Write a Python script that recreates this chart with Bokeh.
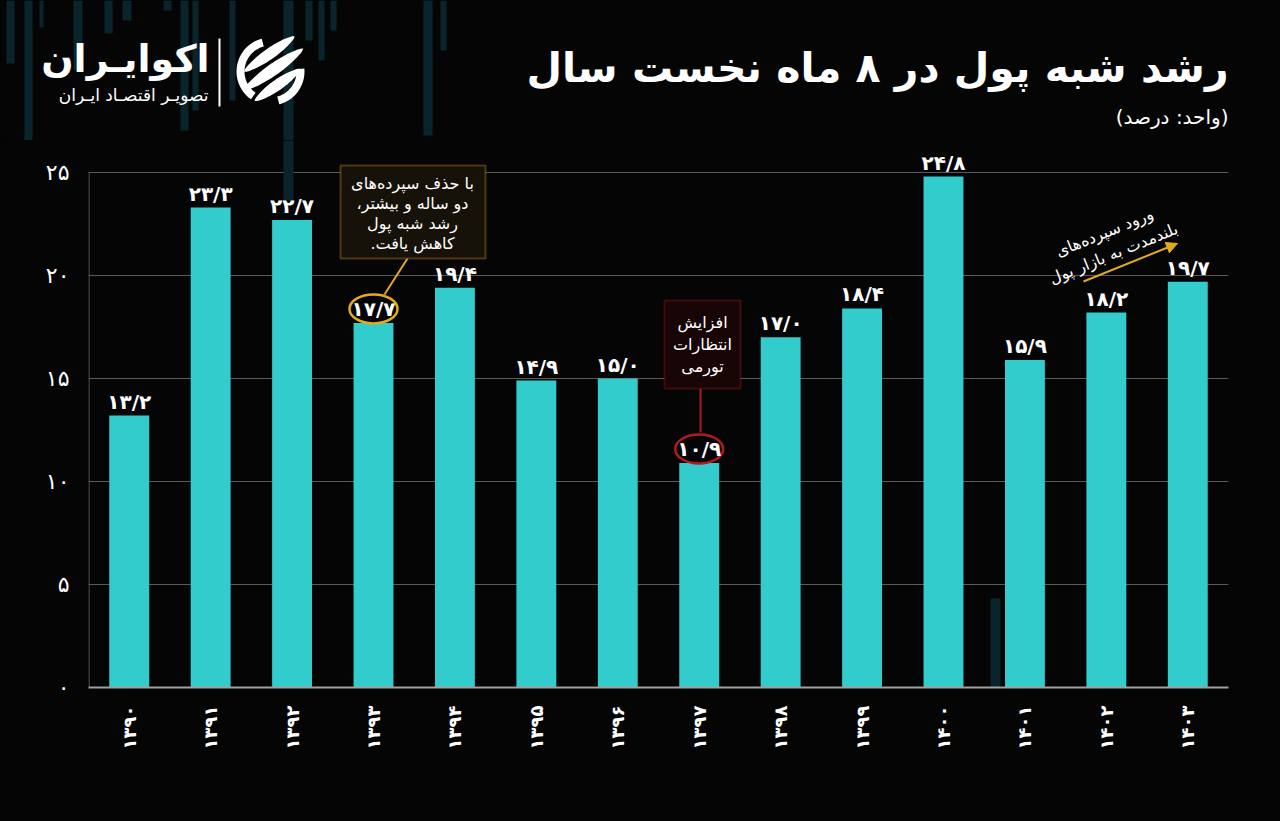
import numpy as np
from bokeh.plotting import figure
from bokeh.layouts import column
from bokeh.models import (ColumnDataSource, FactorRange, Range1d, LabelSet, Label,
                          BoxAnnotation, Arrow, NormalHead, FixedTicker)
from bokeh.core.properties import value
from bokeh.embed import file_html
from bokeh.resources import INLINE

# ---------------- data ----------------
years = ["۱۳۹۰", "۱۳۹۱", "۱۳۹۲", "۱۳۹۳", "۱۳۹۴", "۱۳۹۵", "۱۳۹۶",
         "۱۳۹۷", "۱۳۹۸", "۱۳۹۹", "۱۴۰۰", "۱۴۰۱", "۱۴۰۲", "۱۴۰۳"]
growth = [13.2, 23.3, 22.7, 17.7, 19.4, 14.9, 15.0, 10.9, 17.0, 18.4, 24.8, 15.9, 18.2, 19.7]
value_labels = ["۱۳/۲", "۲۳/۳", "۲۲/۷", "۱۷/۷", "۱۹/۴", "۱۴/۹", "۱۵/۰",
                "۱۰/۹", "۱۷/۰", "۱۸/۴", "۲۴/۸", "۱۵/۹", "۱۸/۲", "۱۹/۷"]
y_ticks = [0, 5, 10, 15, 20, 25]
y_tick_labels = ["۰", "۵", "۱۰", "۱۵", "۲۰", "۲۵"]

RLM = "\u200F"
def rtl(s):
    return RLM + s + RLM

title_text = "رشد شبه پول در ۸ ماه نخست سال"
subtitle_text = "(واحد: درصد)"
logo_text = "اکوایـران"
logo_sub = "تصویـر اقتصـاد ایـران"
note_yellow = ["با حذف سپرده‌های", "دو ساله و بیشتر،", "رشد شبه پول", "کاهش یافت."]
note_red = ["افزایش", "انتظارات", "تورمی"]
note_arrow = ["ورود سپرده‌های", "بلندمدت به بازار پول"]

FONT = "DejaVu Sans"
W, H = 1280, 821
HEAD = 140                 # header height (px)
FL, FR, FB = 88, 1228, 687  # frame left / right / bottom (page px)
BG = "#050505"
BAR = "#33CCCC"
GOLD = "#E2AA1E"
RED = "#B3191E"
DECO = "#0a242c"

# ---------------- header (logo + title) ----------------
hd = figure(width=W, height=HEAD, x_range=Range1d(0, W), y_range=Range1d(HEAD, 0),
            x_axis_type=None, y_axis_type=None, output_backend="svg", toolbar_location=None,
            min_border=0, min_border_left=0, min_border_right=0, min_border_top=0,
            min_border_bottom=0, background_fill_color=BG, border_fill_color=BG,
            outline_line_color=None, frame_align=False)
hd.title.visible = False
hd.grid.visible = False

deco_l = [6, 24, 39, 73, 104, 122, 163, 180, 192, 229, 283, 305, 318, 330, 423, 440]
deco_r = [14, 32, 43, 82, 112, 131, 171, 188, 198, 235, 293, 312, 324, 336, 432, 446]
deco_b = [63, 140, 27, 70, 33, 20, 10, 130, 110, 100, 140, 40, 60, 30, 135, 50]
hd.quad(left=deco_l, right=deco_r, top=[0] * len(deco_l), bottom=deco_b,
        fill_color=DECO, line_color=None)

hd.text(x=[1228], y=[67], text=[rtl(title_text)], text_align="right", text_baseline="middle",
        text_font=value(FONT), text_font_size="41px", text_font_style="bold", text_color="white")
hd.text(x=[1228], y=[116], text=[rtl(subtitle_text)], text_align="right", text_baseline="middle",
        text_font=value(FONT), text_font_size="20px", text_color="white")
hd.text(x=[209], y=[58], text=[rtl(logo_text)], text_align="right", text_baseline="middle",
        text_font=value(FONT), text_font_size="38px", text_font_style="bold", text_color="white")
hd.text(x=[208], y=[94], text=[rtl(logo_sub)], text_align="right", text_baseline="middle",
        text_font=value(FONT), text_font_size="17px", text_color="white")
hd.segment(x0=[219], y0=[38], x1=[219], y1=[106], line_color="white", line_width=2)

cx, cy, R = 270, 71, 34
def ring(a0, a1, r_out, r_in):
    a = np.deg2rad(np.linspace(a0, a1, 30))
    xs = list(cx + r_out * np.cos(a)) + list(cx + r_in * np.cos(a[::-1]))
    ys = list(cy - r_out * np.sin(a)) + list(cy - r_in * np.sin(a[::-1]))
    return xs, ys

def leaf(off, t0, t1, w):
    th = np.deg2rad(35)
    d = np.array([np.cos(th), -np.sin(th)])
    n = np.array([np.sin(th), np.cos(th)])
    t = np.linspace(t0, t1, 30)
    hw = w * np.sin(np.pi * (t - t0) / (t1 - t0)) ** 0.6
    c = np.array([cx, cy]) + off * n
    up = c[None, :] + t[:, None] * d[None, :] - hw[:, None] * n[None, :]
    dn = c[None, :] + t[:, None] * d[None, :] + hw[:, None] * n[None, :]
    pts = np.vstack([up, dn[::-1]])
    return list(pts[:, 0]), list(pts[:, 1])

shapes = [ring(105, 235, R, R - 8), ring(-75, 5, R, R - 8),
          leaf(-15, -22, 40, 5.5), leaf(0, -33, 40, 6), leaf(15, -30, 26, 5.5)]
hd.patches(xs=[s[0] for s in shapes], ys=[s[1] for s in shapes], fill_color="white",
           line_color=None)

# ---------------- main chart ----------------
PX_PER_UNIT = (FB - 172) / 25.0
src = ColumnDataSource(dict(year=years, growth=growth, label=value_labels))

p = figure(width=W, height=H - HEAD, x_range=FactorRange(*years, range_padding=0),
           y_range=Range1d(0, (FB - HEAD) / PX_PER_UNIT), output_backend="svg",
           toolbar_location=None, min_border_left=FL, min_border_right=W - FR,
           min_border_top=0, min_border_bottom=H - FB,
           background_fill_color=BG, border_fill_color=BG, outline_line_color=None,
           frame_align=False)
p.title.visible = False

# frame-relative screen helpers (origin: frame bottom-left)
def fx(x):
    return x - FL
def fy(y):
    return FB - y

def sbox(l, r, t, b, fill, line, level="overlay", lw=2):
    return BoxAnnotation(left=fx(l), right=fx(r), top=fy(t), bottom=fy(b), left_units="screen",
                         right_units="screen", top_units="screen", bottom_units="screen",
                         fill_color=fill, fill_alpha=1, line_color=line, line_width=lw,
                         level=level)

# decorative stripes visible inside the plot area
for l, r, t, b in [(283, 293, 140, 200), (990, 1000, 598, 700), (1248, 1260, 598, 700)]:
    p.add_layout(sbox(l, r, t, b, DECO, None, level="underlay", lw=0))

# bars
p.vbar(x="year", top="growth", width=0.49, source=src, fill_color=BAR, line_color=None)

# axes / grid
p.yaxis.ticker = FixedTicker(ticks=y_ticks)
p.yaxis.major_label_overrides = {t: l for t, l in zip(y_ticks, y_tick_labels)}
p.yaxis.axis_line_color = None
p.yaxis.major_tick_line_color = None
p.yaxis.minor_tick_line_color = None
p.yaxis.major_label_standoff = 13
p.yaxis.major_label_text_font_size = "22px"
p.yaxis.major_label_text_color = "white"
p.yaxis.major_label_text_font = FONT
p.ygrid.ticker = FixedTicker(ticks=y_ticks)
p.ygrid.grid_line_color = "#5a5a5a"
p.ygrid.grid_line_width = 1
p.xgrid.grid_line_color = None
# left axis line only over the 0..25 span
p.add_layout(sbox(FL, FL + 1, 172, FB, "#6a6a6a", None, level="glyph", lw=0))

p.xaxis.axis_line_color = "#a0a0a0"
p.xaxis.axis_line_width = 2
p.xaxis.major_tick_line_color = None
p.xaxis.minor_tick_line_color = None
p.xaxis.major_label_orientation = np.pi / 2
p.xaxis.major_label_standoff = 12
p.xaxis.major_label_text_font_size = "18px"
p.xaxis.major_label_text_font_style = "bold"
p.xaxis.major_label_text_color = "white"
p.xaxis.major_label_text_font = FONT

# value labels
p.add_layout(LabelSet(x="year", y="growth", text="label", source=src, y_offset=14,
                      text_align="center", text_baseline="middle", text_font_size="20px",
                      text_font_style="bold", text_color="white", text_font=value(FONT)))

# highlight ellipses around two labels
i_y, i_r = 3, 7
off = 14 / PX_PER_UNIT
p.ellipse(x=[years[i_y]], y=[growth[i_y] + off], width=48, height=29, width_units="screen",
          height_units="screen", fill_color=None, line_color=GOLD, line_width=2.5)
p.ellipse(x=[years[i_r]], y=[growth[i_r] + off], width=48, height=29, width_units="screen",
          height_units="screen", fill_color=None, line_color=RED, line_width=2.5)

def slabel(x, y, text, size, angle=0):
    return Label(x=fx(x), y=fy(y), x_units="screen", y_units="screen", text=rtl(text),
                 text_align="center", text_baseline="middle", text_font_size=size,
                 text_color="white", text_font=FONT, angle=angle, level="overlay")

def sline(x0, y0, x1, y1, color, head=None):
    return Arrow(x_start=fx(x0), y_start=fy(y0), x_end=fx(x1), y_end=fy(y1),
                 start_units="screen", end_units="screen", line_color=color, line_width=2,
                 end=head)

# yellow callout
p.add_layout(sline(407, 258, 384, 294, GOLD))
p.add_layout(sbox(340, 485, 165, 258, "#16120a", GOLD))
for k, s in enumerate(note_yellow):
    p.add_layout(slabel(412, 183 + k * 20, s, "16px"))

# red callout
p.add_layout(sline(700, 388, 700, 432, RED))
p.add_layout(sbox(664, 740, 300, 388, "#180606", RED))
for k, s in enumerate(note_red):
    p.add_layout(slabel(702, 322 + k * 22, s, "16px"))

# arrow note
p.add_layout(sline(1083, 281, 1177, 243, GOLD,
                   NormalHead(size=11, fill_color=GOLD, line_color=GOLD)))
ang = np.deg2rad(22)
p.add_layout(slabel(1104, 232, note_arrow[0], "16px", angle=ang))
p.add_layout(slabel(1113, 253, note_arrow[1], "16px", angle=ang))

layout = column(hd, p, spacing=0, styles={"background-color": BG})
html = file_html(layout, INLINE)
html = html.replace("<body>", '<body style="margin:0;background-color:%s">' % BG, 1)
open("out.html", "w").write(html)
